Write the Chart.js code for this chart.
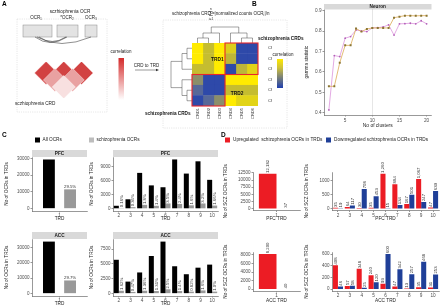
<!DOCTYPE html>
<html><head><meta charset="utf-8">
<script src="https://cdn.jsdelivr.net/npm/chart.js@4.4.0/dist/chart.umd.min.js"></script>
<style>
html,body{margin:0;padding:0;background:#fff;}
#wrap{position:relative;width:440px;height:307px;overflow:hidden;background:#fff;}
#wrap canvas{position:absolute;}
</style></head><body><div id="wrap"></div>
<script>
// ---------------- DATA ----------------
const clusters = [2,3,4,5,6,7,8,9,10,11,12,13,14,15,16,17,18,19,20];
const gammaPFC = [0.53,0.53,0.645,0.73,0.73,0.812,0.797,0.81,0.815,0.815,0.815,0.815,0.865,0.870,0.875,0.875,0.874,0.875,0.875];
const gammaACC = [0.415,0.68,0.675,0.765,0.773,0.805,0.80,0.797,0.815,0.816,0.82,0.83,0.78,0.835,0.836,0.838,0.835,0.85,0.835];
const gammaTicksX = [5,10,15,20];
const gammaTicksY = [0.4,0.5,0.6,0.7,0.8,0.9];

const trd1 = ['1'];
const trdMulti = ['2','3','4','5','6','7','8','9','10'];

const pfcAll1 = [29500];
const pfcScz1 = [11500];
const pfcScz1Lab = ['29.5%'];
const accAll1 = [34000];
const accScz1 = [8500];
const accScz1Lab = ['29.7%'];

const pfcAllN = [600,2000,7700,5000,4600,10600,7550,10200,6200];
const pfcSczN = [100,300,800,600,1100,1000,700,1100,650];
const pfcSczNLab = ['0.16%','0.36%','1.8%','1.4%','3.5%','2.4%','1.6%','3.2%','1.66%'];
const accAllN = [5700,2000,3550,6340,8780,4600,3250,4360,4880];
const accSczN = [450,250,450,400,700,400,300,500,300];
const accSczNLab = ['1.62%','0.47%','1.36%','1.31%','2.5%','1.4%','0.82%','1.6%','1.0%'];

const pfcUp1 = [12182], pfcUp1Lab = ['12,182'];
const pfcDown1 = [37], pfcDown1Lab = ['37'];
const accUp1 = [8200], accUp1Lab = ['8,200'];
const accDown1 = [40], accDown1Lab = ['40'];

const pfcUpN = [35,64,30,35,1260,884,167,1067,47];
const pfcUpNLab = ['35','64','30','35','1,260','884','167','1,067','47'];
const pfcDownN = [19,117,708,453,15,134,501,247,639];
const pfcDownNLab = ['19','117','708','453','15','134','501','247','639'];
const accUpN = [408,57,348,240,93,47,13,35,31];
const accUpNLab = ['408','57','348','240','93','47','13','35','31'];
const accDownN = [46,58,25,120,600,342,257,468,253];
const accDownNLab = ['46','58','25','120','600','342','257','468','253'];

const crdNames = ['CRD1','CRD2','CRD3','CRD4','CRD5','CRD6'];
const crdCorr = [
  [1.0, 0.6, 1.0, 0.75,-0.8,-0.8],
  [1.0, 0.6, 1.0, 0.55,-0.8,-0.8],
  [0.6, 0.6, 1.0,-0.8, 0.55, 0.8],
  [0.2,-0.8,-0.8, 1.0, 1.0, 1.0],
  [-0.3,-0.8,-0.8,0.6, 0.6, 0.6],
  [-0.8,-0.3,0.2, 1.0, 0.8, 0.8]
];
// schematic OCR pair correlations (i<j)
const ocrPairs = [[1,2,0.9],[2,3,0.9],[3,4,0.9],[1,3,0.45],[2,4,0.45],[1,4,0.15]];

// ---------------- SETUP ----------------
const FONT = "'Liberation Sans', Arial, sans-serif";
const FS = 4.7;
Chart.defaults.font.family = FONT;
Chart.defaults.font.size = FS;
Chart.defaults.color = '#4d4d4d';
Chart.defaults.animation = false;
Chart.defaults.plugins.legend.display = false;
Chart.defaults.plugins.tooltip.enabled = false;

const wrap = document.getElementById('wrap');
function mk(l,t,w,h){
  const c = document.createElement('canvas');
  c.width = w; c.height = h;
  c.style.left = l+'px'; c.style.top = t+'px';
  c.style.width = w+'px'; c.style.height = h+'px';
  wrap.appendChild(c);
  return c;
}
const RED = '#ec1c24', BLUE = '#1f3f98';

function lerp(a,b,t){return a.map((v,i)=>Math.round(v+(b[i]-v)*t));}
function corrColor(v){
  const stops = [[-1,[30,60,175]],[-0.2,[95,110,150]],[0.3,[150,150,95]],[0.65,[205,195,40]],[1,[255,235,0]]];
  for(let k=0;k<stops.length-1;k++){
    const [a,ca]=stops[k],[b,cb]=stops[k+1];
    if(v<=b){const c=lerp(ca,cb,(v-a)/(b-a));return `rgb(${c})`;}
  }
  return 'rgb(255,235,0)';
}
function redColor(v){const c=lerp([255,255,255],[205,45,45],v);return `rgb(${c})`;}

// ---------------- PLUGINS ----------------
const stripPlugin = {
  id:'strip',
  beforeDatasetsDraw(chart,args,o){
    if(!o || !o.text) return;
    const a = chart.chartArea, c = chart.ctx;
    c.save();
    c.fillStyle = '#d9d9d9';
    c.fillRect(a.left, a.top-o.h, a.right-a.left, o.h);
    c.fillStyle = '#1a1a1a';
    c.font = `bold ${FS}px ${FONT}`;
    c.textAlign='center'; c.textBaseline='middle';
    c.fillText(o.text,(a.left+a.right)/2, a.top-o.h/2+0.3);
    c.restore();
  }
};
const valuePlugin = {
  id:'vlabels',
  afterDatasetsDraw(chart){
    const c = chart.ctx;
    chart.data.datasets.forEach((ds,i)=>{
      if(!ds.valueLabels) return;
      chart.getDatasetMeta(i).data.forEach((el,j)=>{
        const t = ds.valueLabels[j]; if(t==null) return;
        c.save();
        c.font = `4.3px ${FONT}`; c.fillStyle = '#333';
        if(ds.labelRot){
          c.translate(el.x+0.2, el.y-0.8); c.rotate(-Math.PI/2);
          c.textAlign='left'; c.textBaseline='middle'; c.fillText(t,0,0);
        } else {
          c.textAlign='center'; c.textBaseline='bottom'; c.fillText(t, el.x, el.y-0.8);
        }
        c.restore();
      });
    });
  }
};

function yLin(o){
  return {
    type:'linear', min:o.min, max:o.max,
    afterBuildTicks: s => { s.ticks = o.ticks.map(v=>({value:v})); },
    afterFit: s => { s.width = o.yw; },
    ticks:{ font:{size:FS-0.2}, color:'#4d4d4d', padding:1, autoSkip:false, callback: v => String(v) },
    grid:{ display:true, drawOnChartArea:false, tickLength:1.5, color:'#333', lineWidth:0.5 },
    border:{ display:true, color:'#333', width:0.5 },
    title:{ display:!!o.ytitle, text:o.ytitle, font:{size:FS}, color:'#222', padding:{top:0,bottom:0} }
  };
}
function xCat(o){
  return {
    type:'category', offset:true,
    afterFit: s => { s.height = o.xh; },
    ticks:{ font:{size:FS}, color:'#4d4d4d', padding:0.5, autoSkip:false, maxRotation:0, minRotation:0 },
    grid:{ display:true, drawOnChartArea:false, tickLength:1.5, color:'#333', lineWidth:0.5, offset:false },
    border:{ display:true, color:'#333', width:0.5 },
    title:{ display:true, text:o.xtitle, font:{size:FS}, color:'#222', padding:{top:0.5,bottom:0} }
  };
}
function barChart(cv,o){
  return new Chart(cv,{
    type:'bar',
    data:{ labels:o.labels, datasets:o.sets.map(s=>({
      data:s.data, backgroundColor:s.color, valueLabels:s.labels, labelRot:s.rot!==false,
      barPercentage:o.bp, categoryPercentage:o.cp, borderWidth:0 })) },
    options:{
      responsive:false, animation:false,
      layout:{padding:{top:o.pt, right:o.pr, left:0, bottom:0}},
      plugins:{ legend:{display:false}, tooltip:{enabled:false}, strip: o.strip ? {text:o.strip, h:7} : false },
      scales:{ x:xCat(o), y:yLin(o) }
    },
    plugins:[stripPlugin, valuePlugin]
  });
}

// ---------------- PANEL C ----------------
barChart(mk(4,148,85,74),{labels:trd1, sets:[
  {data:pfcAll1,color:'#000'},{data:pfcScz1,color:'#999',labels:pfcScz1Lab,rot:false}],
  bp:0.56, cp:0.77, pt:9, pr:2, xh:11, xtitle:'TRD', strip:'PFC',
  min:-1550, max:31000, ticks:[0,10000,20000,30000], yw:28, ytitle:'No of OCRs in TRDs'});
barChart(mk(89,148,131,74),{labels:trdMulti, sets:[
  {data:pfcAllN,color:'#000'},{data:pfcSczN,color:'#999',labels:pfcSczNLab}],
  bp:1, cp:0.86, pt:9, pr:2, xh:11, xtitle:'TRD', strip:'PFC',
  min:-530, max:11130, ticks:[0,3000,6000,9000], yw:24, ytitle:'No of OCRs in TRDs'});
barChart(mk(4,230,85,77),{labels:trd1, sets:[
  {data:accAll1,color:'#000'},{data:accScz1,color:'#999',labels:accScz1Lab,rot:false}],
  bp:0.56, cp:0.77, pt:9, pr:2, xh:11, xtitle:'TRD', strip:'ACC',
  min:-1700, max:35700, ticks:[0,10000,20000,30000], yw:28, ytitle:'No of OCRs in TRDs'});
barChart(mk(89,230,131,77),{labels:trdMulti, sets:[
  {data:accAllN,color:'#000'},{data:accSczN,color:'#999',labels:accSczNLab}],
  bp:1, cp:0.86, pt:9, pr:2, xh:11, xtitle:'TRD', strip:'ACC',
  min:-440, max:9220, ticks:[0,2500,5000,7500], yw:24, ytitle:'No of OCRs in TRDs'});

// ---------------- PANEL D ----------------
barChart(mk(223,160,79,62),{labels:trd1, sets:[
  {data:pfcUp1,color:RED,labels:pfcUp1Lab},{data:pfcDown1,color:BLUE,labels:pfcDown1Lab}],
  bp:1, cp:0.75, pt:12, pr:2, xh:11.5, xtitle:'PFC TRD',
  min:-640, max:12800, ticks:[0,2500,5000,7500,10000,12500], yw:30, ytitle:'No of SCZ OCRs in TRDs'});
barChart(mk(304,160,136,62),{labels:trdMulti, sets:[
  {data:pfcUpN,color:RED,labels:pfcUpNLab},{data:pfcDownN,color:BLUE,labels:pfcDownNLab}],
  bp:1, cp:0.85, pt:12, pr:1, xh:11.5, xtitle:'PFC TRD',
  min:-63, max:1323, ticks:[0,500,1000], yw:28, ytitle:'No of SCZ OCRs in TRDs'});
barChart(mk(223,240,79,64),{labels:trd1, sets:[
  {data:accUp1,color:RED,labels:accUp1Lab},{data:accDown1,color:BLUE,labels:accDown1Lab}],
  bp:1, cp:0.75, pt:12.3, pr:2, xh:13, xtitle:'ACC TRD',
  min:-410, max:8610, ticks:[0,2000,4000,6000,8000], yw:30, ytitle:'No of SCZ OCRs in TRDs'});
barChart(mk(304,240,136,64),{labels:trdMulti, sets:[
  {data:accUpN,color:RED,labels:accUpNLab},{data:accDownN,color:BLUE,labels:accDownNLab}],
  bp:1, cp:0.85, pt:12.3, pr:1, xh:13, xtitle:'ACC TRD',
  min:-30, max:630, ticks:[0,200,400,600], yw:28, ytitle:'No of SCZ OCRs in TRDs'});

// ---------------- PANEL B ----------------
const vlinePlugin = {
  id:'vline',
  beforeDatasetsDraw(chart){
    const c=chart.ctx, a=chart.chartArea, x=chart.scales.x.getPixelForValue(10);
    c.save(); c.strokeStyle='#9a9a9a'; c.lineWidth=0.5; c.setLineDash([1,1]);
    c.beginPath(); c.moveTo(x,a.top); c.lineTo(x,a.bottom); c.stroke(); c.restore();
  },
  afterDatasetsDraw(chart){
    const c=chart.ctx;
    c.save(); c.font=`${FS}px ${FONT}`; c.fillStyle='#333'; c.textBaseline='middle';
    chart.data.datasets.forEach((ds,i)=>{
      const y=44+i*5.8, x=410;
      c.strokeStyle=ds.borderColor; c.lineWidth=0.7;
      c.beginPath(); c.moveTo(x-2.5,y); c.lineTo(x+2.5,y); c.stroke();
      c.fillStyle=ds.backgroundColor; c.fillRect(x-1,y-1,2,2);
      c.fillStyle='#333'; c.fillText(ds.label,x+4,y+0.2);
    });
    c.restore();
  }
};
new Chart(mk(300,0,140,130),{
  type:'line',
  data:{datasets:[
    {label:'PFC', data:clusters.map((c,i)=>({x:c,y:gammaPFC[i]})), borderColor:'#dcab55', backgroundColor:'#8a7633',
     pointStyle:'rect', pointRadius:1.4, pointBorderWidth:0, borderWidth:0.8},
    {label:'ACC', data:clusters.map((c,i)=>({x:c,y:gammaACC[i]})), borderColor:'#dc94dc', backgroundColor:'#b260b8',
     pointStyle:'circle', pointRadius:0.9, pointBorderWidth:0, borderWidth:0.8}
  ]},
  options:{
    responsive:false, animation:false,
    layout:{padding:{top:9.5,right:8.5,left:0,bottom:0}},
    plugins:{legend:{display:false},tooltip:{enabled:false},strip:{text:'Neuron',h:5.5}},
    scales:{
      x:{type:'linear',min:1.1,max:20.9,
        afterBuildTicks:s=>{s.ticks=gammaTicksX.map(v=>({value:v}));},
        afterFit:s=>{s.height=15;},
        ticks:{font:{size:FS},color:'#4d4d4d',padding:1,callback:v=>String(v)},
        grid:{display:true,drawOnChartArea:false,tickLength:1.5,color:'#333',lineWidth:0.5},
        border:{display:true,color:'#333',width:0.5},
        title:{display:true,text:'No of clusters',font:{size:FS+0.2},color:'#222',padding:{top:0,bottom:1}}},
      y:{type:'linear',min:0.39,max:0.905,
        afterBuildTicks:s=>{s.ticks=gammaTicksY.map(v=>({value:v}));},
        afterFit:s=>{s.width=24;},
        ticks:{font:{size:FS},color:'#4d4d4d',padding:1,callback:v=>v.toFixed(1)},
        grid:{display:true,drawOnChartArea:false,tickLength:1.5,color:'#333',lineWidth:0.5},
        border:{display:true,color:'#333',width:0.5},
        title:{display:true,text:'gamma statistic',font:{size:FS},color:'#222',padding:{top:4,bottom:0}}}
    }
  },
  plugins:[stripPlugin, vlinePlugin]
});

// ---------------- PANEL A : heatmap ----------------
const heatDeco = {
  id:'heatDeco',
  afterDatasetsDraw(chart){
    const c=chart.ctx, xs=chart.scales.x, ys=chart.scales.y, a=chart.chartArea;
    const cx = j => xs.getPixelForValue(j+0.5);
    const ry = i => ys.getPixelForValue(i);
    c.save();
    c.strokeStyle='#444'; c.lineWidth=0.5;
    const L1=a.top-5, L2=a.top-10, L3=a.top-16;
    const seg=(x1,y1,x2,y2)=>{c.moveTo(x1,y1);c.lineTo(x2,y2);};
    c.beginPath();
    seg(cx(0),a.top,cx(0),L1); seg(cx(1),a.top,cx(1),L1); seg(cx(0),L1,cx(1),L1);
    const m01=(cx(0)+cx(1))/2;
    seg(m01,L1,m01,L2); seg(cx(2),a.top,cx(2),L2); seg(m01,L2,cx(2),L2);
    const mA=(m01+cx(2))/2;
    seg(cx(4),a.top,cx(4),L1); seg(cx(5),a.top,cx(5),L1); seg(cx(4),L1,cx(5),L1);
    const m45=(cx(4)+cx(5))/2;
    seg(m45,L1,m45,L2); seg(cx(3),a.top,cx(3),L2); seg(cx(3),L2,m45,L2);
    const mB=(m45+cx(3))/2;
    seg(mA,L2,mA,L3); seg(mB,L2,mB,L3); seg(mA,L3,mB,L3);
    const X1=a.left-5, X2=a.left-10, X3=a.left-21;
    seg(a.left,ry(0),X1,ry(0)); seg(a.left,ry(1),X1,ry(1)); seg(X1,ry(0),X1,ry(1));
    const r01=(ry(0)+ry(1))/2;
    seg(X1,r01,X2,r01); seg(a.left,ry(2),X2,ry(2)); seg(X2,r01,X2,ry(2));
    const rA=(r01+ry(2))/2;
    seg(a.left,ry(4),X1,ry(4)); seg(a.left,ry(5),X1,ry(5)); seg(X1,ry(4),X1,ry(5));
    const r45=(ry(4)+ry(5))/2;
    seg(X1,r45,X2,r45); seg(a.left,ry(3),X2,ry(3)); seg(X2,ry(3),X2,r45);
    const rB=(r45+ry(3))/2;
    seg(X2,rA,X3,rA); seg(X2,rB,X3,rB); seg(X3,rA,X3,rB);
    c.stroke();
    c.strokeStyle='#e8262b'; c.lineWidth=1.1;
    const x0=xs.getPixelForValue(0), x3=xs.getPixelForValue(3), x6=xs.getPixelForValue(6);
    const yT=a.top, yM=(ry(2)+ry(3))/2, yB=a.bottom;
    c.strokeRect(x3,yT,x6-x3,yM-yT);
    c.strokeRect(x0,yM,x3-x0,yB-yM);
    c.fillStyle='#111'; c.font=`bold 4.8px ${FONT}`; c.textAlign='center'; c.textBaseline='middle';
    c.fillText('TRD1', xs.getPixelForValue(2.3), ys.getPixelForValue(1.1));
    c.fillText('TRD2', xs.getPixelForValue(4.1), ys.getPixelForValue(4.3));
    c.font=`4px ${FONT}`; c.fillStyle='#333';
    crdNames.forEach((n,j)=>{
      c.save(); c.translate(cx(j), a.bottom+2); c.rotate(-Math.PI/2);
      c.textAlign='right'; c.textBaseline='middle'; c.fillText(n,0,0); c.restore();
    });
    c.restore();
  }
};
new Chart(mk(168,20,104,100),{
  type:'bar',
  data:{labels:crdNames, datasets:crdNames.map((cn,j)=>({
    data:crdNames.map(()=>1),
    backgroundColor:crdNames.map((rn,i)=>corrColor(crdCorr[i][j])),
    borderColor:crdNames.map((rn,i)=>corrColor(crdCorr[i][j])), borderWidth:0.3,
    barPercentage:1, categoryPercentage:1 }))},
  options:{
    indexAxis:'y', responsive:false, animation:false,
    layout:{padding:{top:23,left:24,bottom:14,right:0}},
    plugins:{legend:{display:false},tooltip:{enabled:false}},
    scales:{
      x:{stacked:true,min:0,max:6,display:false},
      y:{stacked:true,position:'right',afterFit:s=>{s.width=14;},
        ticks:{font:{size:4},color:'#333',padding:2,autoSkip:false},
        grid:{display:false}, border:{display:false}}
    }
  },
  plugins:[heatDeco]
});

// ---------------- PANEL A : schematic triangle ----------------
new Chart(mk(10,50,100,60),{
  type:'scatter',
  data:{datasets:[{
    data:ocrPairs.map(p=>({x:(p[0]+p[1])/2, y:p[1]-p[0]})),
    pointStyle:'rectRot', pointRadius:11.6,
    backgroundColor:ocrPairs.map(p=>redColor(p[2])),
    borderColor:'#fff', borderWidth:0.4
  }]},
  options:{
    responsive:false, animation:false, layout:{padding:0},
    plugins:{legend:{display:false},tooltip:{enabled:false}},
    scales:{ x:{type:'linear',min:0.1395,max:4.431,display:false},
             y:{type:'linear',min:-0.564,max:4.564,reverse:true,display:false} }
  }
});

// ---------------- OVERLAY (texts, legends, schematic) ----------------
const overlay = {
  id:'overlay',
  afterDraw(chart){
    const c=chart.ctx, xs=chart.scales.x, ys=chart.scales.y;
    const X=v=>xs.getPixelForValue(v), Y=v=>ys.getPixelForValue(v);
    c.save();
    const txt=(t,x,y,size,opt={})=>{
      c.font=`${opt.bold?'bold ':''}${size}px ${FONT}`; c.fillStyle=opt.color||'#222';
      c.textAlign=opt.align||'left'; c.textBaseline=opt.base||'middle'; c.fillText(t,X(x),Y(y));
    };
    txt('A',2,4.5,6.5,{bold:true,color:'#000'}); txt('B',252,4.5,6.5,{bold:true,color:'#000'});
    txt('C',2,135,6.5,{bold:true,color:'#000'}); txt('D',221,135,6.5,{bold:true,color:'#000'});
    c.strokeStyle='#b5b5b5'; c.lineWidth=0.5; c.setLineDash([0.6,1.2]);
    c.strokeRect(X(17),Y(19),X(107)-X(17),Y(112)-Y(19));
    c.strokeRect(X(163),Y(20),X(287)-X(163),Y(128)-Y(20));
    c.setLineDash([]);
    txt('sczhiophrenia OCR',70,11.5,FS,{align:'center'});
    txt('OCR\u2081',36,18,4.5,{align:'center'});
    txt('*OCR\u2082',67,18,4.5,{align:'center'});
    txt('OCR\u2083',91,18,4.5,{align:'center'});
    c.fillStyle='#e3e3e3'; c.strokeStyle='#8a8a8a'; c.lineWidth=0.5;
    [[23,25,29,12],[57,25,21,12],[85,25,12,12]].forEach(r=>{
      c.fillRect(X(r[0]),Y(r[1]),r[2],r[3]); c.strokeRect(X(r[0]),Y(r[1]),r[2],r[3]);});
    c.strokeStyle='#333'; c.lineWidth=0.55;
    c.beginPath(); c.moveTo(X(35),Y(37)); c.quadraticCurveTo(X(50),Y(48),X(67),Y(37));
    c.moveTo(X(37),Y(37)); c.quadraticCurveTo(X(60),Y(50),X(91),Y(37));
    c.moveTo(X(39),Y(37)); c.quadraticCurveTo(X(52),Y(46),X(66),Y(37)); c.stroke();
    txt('sczhiophrenia CRD',15,104,FS);
    txt('correlation',121,52,4.5,{align:'center'});
    let g=c.createLinearGradient(0,Y(58),0,Y(100));
    g.addColorStop(0,'#d42a2a'); g.addColorStop(1,'#ffffff');
    c.fillStyle=g; c.fillRect(X(118.5),Y(58),5.5,Y(100)-Y(58));
    txt('CRD to TRD',146.5,65.5,4.5,{align:'center'});
    c.strokeStyle='#333'; c.lineWidth=0.5;
    c.beginPath(); c.moveTo(X(135),Y(70)); c.lineTo(X(157),Y(70)); c.stroke();
    c.fillStyle='#333'; c.beginPath(); c.moveTo(X(159),Y(70)); c.lineTo(X(156),Y(68.7)); c.lineTo(X(156),Y(71.3)); c.fill();
    txt('schizophrenia CRD =',172,14,4.5);
    txt('\u03A3',211,14.3,6.5,{align:'center'});
    txt('n',211,9,3.2,{align:'center'});
    txt('i=1',211,19.3,3.2,{align:'center'});
    txt('|normalized counts OCR',214.5,14,4.5);
    c.font=`4.5px ${FONT}`; const w=c.measureText('|normalized counts OCR').width;
    txt('i',214.5+w,15.3,3.2);
    txt('|/n',215.6+w,14,4.5);
    txt('schizophrenia CRDs',258,39,FS,{bold:true,color:'#111'});
    txt('schizophrenia CRDs',145,113.5,FS,{bold:true,color:'#111'});
    txt('correlation',283,55,4.5,{align:'center'});
    g=c.createLinearGradient(0,Y(59),0,Y(88));
    g.addColorStop(0,'#ffe900'); g.addColorStop(0.3,'#cfc238'); g.addColorStop(0.55,'#8f906a'); g.addColorStop(1,'#1f3fb0');
    c.fillStyle=g; c.fillRect(X(277),Y(59),6,Y(88)-Y(59));
    c.fillStyle='#000'; c.fillRect(X(35),Y(137.5),5,5);
    txt('All OCRs',42.5,140.2,FS);
    c.fillStyle='#bdbdbd'; c.fillRect(X(89),Y(137.5),5,5);
    txt('schizophrenia OCRs',96.5,140.2,FS);
    c.fillStyle=RED; c.fillRect(X(225),Y(137.5),5,5);
    txt('Upregulated  schizophrenia OCRs in TRDs',233,140.2,FS);
    c.fillStyle=BLUE; c.fillRect(X(326),Y(137.5),5,5);
    txt('Downregulated schizophrenia OCRs in TRDs',334,140.2,FS);
    c.restore();
  }
};
new Chart(mk(0,0,440,307),{
  type:'scatter',
  data:{datasets:[{data:[]}]},
  options:{responsive:false, animation:false, layout:{padding:0},
    plugins:{legend:{display:false},tooltip:{enabled:false}},
    scales:{x:{type:'linear',min:0,max:440,display:false},y:{type:'linear',min:0,max:307,reverse:true,display:false}}},
  plugins:[overlay]
});
</script></body></html>
